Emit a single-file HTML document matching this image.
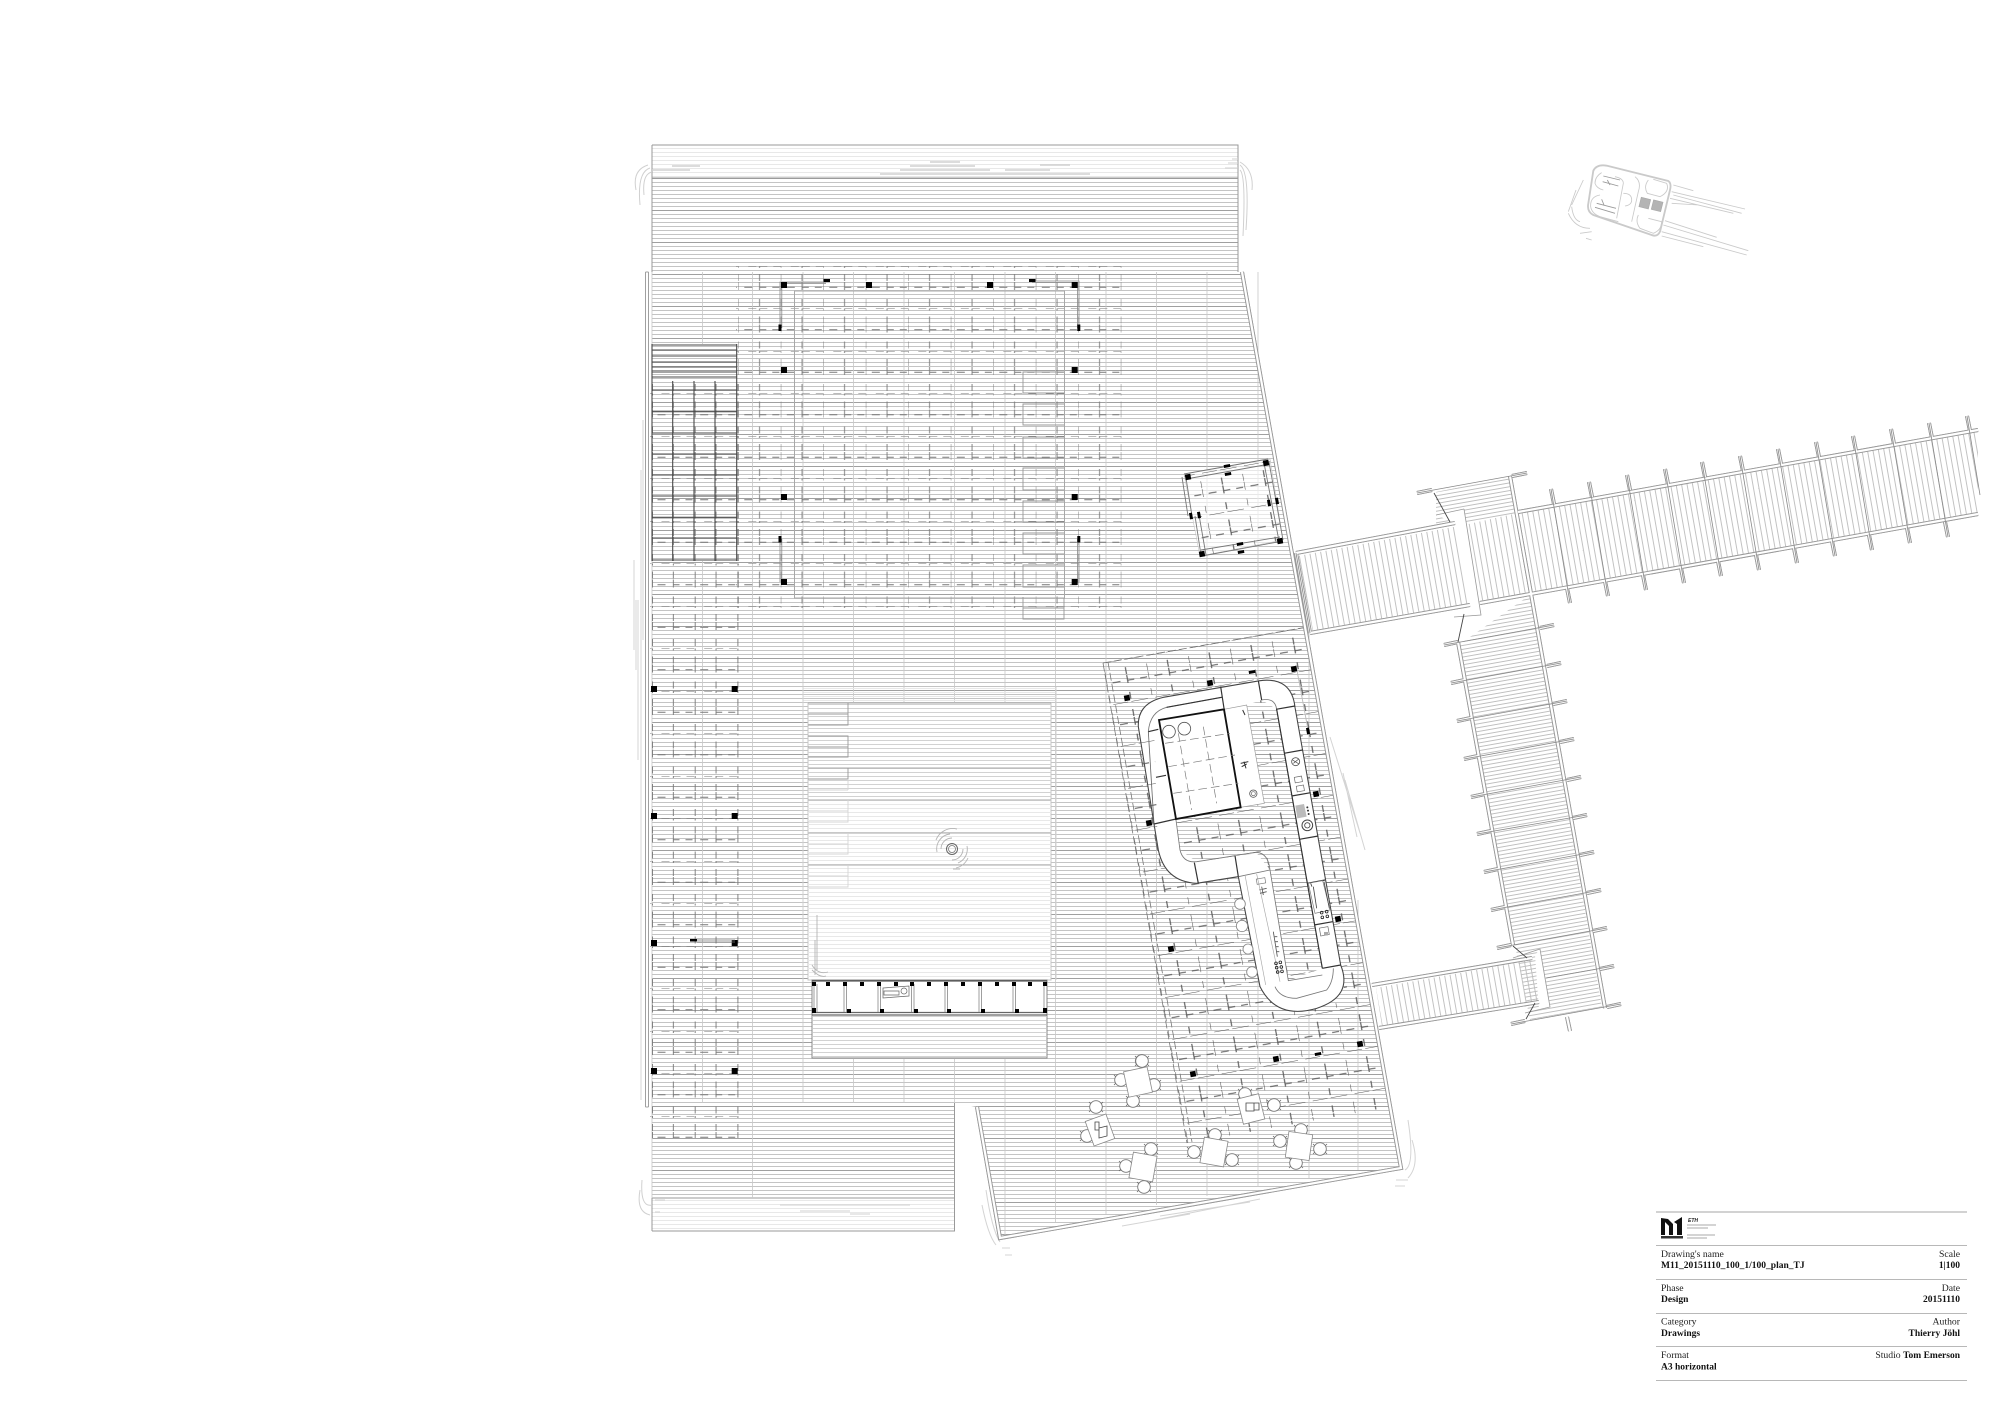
<!DOCTYPE html>
<html><head><meta charset="utf-8"><style>
html,body{margin:0;padding:0;background:#fff}
svg{display:block}
.t{font-family:"Liberation Serif",serif;font-size:9.7px;fill:#222}
.b{font-weight:bold;fill:#111;font-size:9.5px}
.r{text-anchor:end}
</style></head><body>
<svg xmlns="http://www.w3.org/2000/svg" width="2000" height="1414" viewBox="0 0 2000 1414" fill="none">
<defs>
<pattern id="pl" patternUnits="userSpaceOnUse" width="40" height="32" y="178"><path d="M0 .5H40M0 4.5H40M0 8.5H40M0 12.5H40M0 16.5H40M0 20.5H40M0 24.5H40M0 28.5H40" stroke="#c4c4c4"/><path d="M0 .5H40" stroke="#a0a0a0"/></pattern>
<pattern id="plL" patternUnits="userSpaceOnUse" width="40" height="4"><path d="M0 .5H40" stroke="#e8e8e8"/></pattern>
<pattern id="plM" patternUnits="userSpaceOnUse" width="40" height="4"><path d="M0 .5H40" stroke="#d2d2d2"/></pattern>
<pattern id="g1" patternUnits="userSpaceOnUse" x="738.3" y="266" width="42.5" height="42.5"><path d="M10 0H18M21.25 0H29M35 0H42.5M6 21.25H14M21.25 21.25H28M34 21.25H41M0 0V2M21.25 0V2M0 8V15M21.25 8V15M0 16V24M21.25 16V24M0 33V40M21.25 33V40" stroke="#777" stroke-width=".9"/></pattern>
<pattern id="g0" patternUnits="userSpaceOnUse" x="651.5" y="266" width="42.7" height="42.5"><path d="M10 0H18M21.35 0H29M35 0H42.7M6 21.25H14M21.35 21.25H28M34 21.25H41M1 0V2M21.85 0V2M1 8V15M21.85 8V15M1 16V24M21.85 16V24M1 33V40M21.85 33V40" stroke="#777" stroke-width=".9"/></pattern>
<pattern id="g2" patternUnits="userSpaceOnUse" width="42.5" height="42.5" patternTransform="translate(1103 663) rotate(-10)"><path d="M3 0H18M21.25 0H38M6 21.25H14M21.25 21.25H28M34 21.25H41M0 8V15M21.25 8V15M0 16V24M21.25 16V24M0 33V40M21.25 33V40" stroke="#555" stroke-width="1.1"/></pattern>
<pattern id="bp" patternUnits="userSpaceOnUse" width="5.4" height="20" patternTransform="rotate(-10)"><path d="M.5 0V20" stroke="#bcbcbc" stroke-width=".9"/></pattern>
<pattern id="vp" patternUnits="userSpaceOnUse" width="20" height="3.8" patternTransform="rotate(-10)"><path d="M0 .5H20" stroke="#bebebe" stroke-width=".9"/></pattern>
<rect id="S" x="-3" y="-3" width="6" height="6" fill="#000"/>
<rect id="s" x="-2.8" y="-2.8" width="5.6" height="5.6" fill="#000" transform="rotate(-10)"/>
<rect id="h" x="-3.2" y="-1.5" width="6.4" height="3" fill="#000" transform="rotate(-10)"/>
<rect id="v" x="-1.5" y="-3.2" width="3" height="6.4" fill="#000" transform="rotate(-10)"/>
<g id="c"><path d="M-7 -5L-5 -3M7 -5L5 -3M-7 5L-5 3M7 5L5 3" stroke="#666" stroke-width=".8"/><circle r="6.3" fill="#fff" stroke="#777" stroke-width=".9"/></g>
<g id="rails">
<path d="M1296 553L1455 523M1310 633L1470 605M1518 512L1978 430M1480 603L1978 514"/>
<path d="M1458 642L1513 945M1510 476L1605 1008M1372 985L1532 958M1379 1028L1539 1002"/>
<path d="M1242 272L1401 1168L1000 1238L977 1107M1296 553L1310 633"/>
<path d="M1551 489L1554 504M1589 482L1592 497M1627 475L1630 490M1665 469L1668 484M1702 462L1705 477M1740 456L1743 471M1778 449L1781 464M1816 442L1819 457M1853 436L1856 451M1891 429L1894 444M1929 423L1932 438M1967 416L1970 431"/>
<path d="M1570 603L1567 588M1608 596L1605 581M1646 590L1643 575M1684 583L1681 568M1721 576L1718 561M1759 570L1756 555M1797 563L1794 548M1835 556L1832 541M1872 550L1869 535M1910 543L1907 528M1948 537L1945 522"/>
<path d="M1417 493L1432 490M1527 473L1512 476M1444 645L1458 642M1451 683L1465 680M1457 721L1471 718M1464 759L1478 756M1471 797L1485 794M1477 834L1491 831M1484 872L1498 869M1491 910L1505 907M1497 948L1511 945M1511 1024L1525 1021"/>
<path d="M1554 625L1540 628M1561 663L1547 666M1567 701L1553 704M1574 739L1560 742M1581 777L1567 780M1587 815L1573 818M1594 852L1580 855M1601 890L1587 893M1607 928L1593 931M1614 966L1600 969M1621 1004L1607 1007M1567 1017L1570 1031"/>
</g>
</defs>
<rect width="2000" height="1414" fill="#fff"/>

<!-- deck -->
<polygon points="652,178 1238,178 1238,272 1243,272 1401,1168 1000,1238 977,1107 954,1103 954,1198 652,1198" fill="url(#pl)"/>
<rect x="652" y="146" width="586" height="32" fill="url(#plL)"/>
<rect x="652" y="1198" width="302" height="33" fill="url(#plL)"/>
<path d="M652 1231V1198M652 178V272M652 145H1238V272M652 1231H954.5V1103M652 178H1238M652 1198H954.5M652 145V178" stroke="#999" stroke-width="1"/>
<path d="M652 272V1198" stroke="#c4c4c4" stroke-width=".8"/>
<path d="M702.5 272V344M752.5 272V1198M803 272V1103M853.5 272V1103M904 272V1103M954.5 272V1103M1005 272V1235M1055.5 272V1222M1106 272V1214M1156.5 272V1205M1207 272V1196M1258 272V1187M1309 630V1178M1358 900V1170M702.5 561V1103" stroke="#c8c8c8" stroke-width=".8"/>

<!-- water ripple marks -->
<path d="M652 170H690M672 166H700M880 174H1010M900 170H990M910 166H975M1005 170H1050M930 162H960M1040 165H1070M1010 174H1090" stroke="#d0d0d0" stroke-width="1.4"/>
<path d="M652 172Q642 174 644 195M650 168Q637 172 640 205M648 165Q632 170 636 190M1240 165Q1250 172 1246 230M1240 170Q1246 175 1243 236M1240 162Q1254 170 1252 190M1238 168H1225M1238 163H1228M1238 159H1232" stroke="#d0d0d0" stroke-width="1"/>
<path d="M641 470V1100M636 600V670M634 560V650M638 600V760M643 420V640" stroke="#dcdcdc" stroke-width="1.2"/>
<path d="M652 1205Q640 1208 642 1180M650 1215Q636 1212 640 1190M655 1200H665M655 1212H660M780 1205H910M800 1211H850M850 1214H870" stroke="#d0d0d0" stroke-width="1"/>
<path d="M1000 1242Q992 1230 986 1190M996 1245Q988 1235 982 1205M1002 1248H1010M1005 1255H1012M1150 1221L1260 1199M1160 1216L1250 1202M1122 1226L1190 1214" stroke="#d4d4d4" stroke-width="1"/>
<path d="M1405 1170Q1415 1165 1408 1120M1408 1178Q1420 1165 1412 1140M1396 1180H1408M1395 1186H1405M1330 737L1360 833M1345 780L1365 850M1343 773L1357 837" stroke="#d4d4d4" stroke-width="1"/>

<!-- grids -->
<rect x="736" y="264" width="388" height="344" fill="url(#g1)"/>
<rect x="650" y="380" width="89" height="758" fill="url(#g0)"/>

<!-- outer walls -->
<use href="#rails" stroke="#999" stroke-width="4"/>
<use href="#rails" stroke="#fff" stroke-width="2.2"/>
<path d="M645.5 272H648.5M645.5 272V1107M648.5 272V1107M645.5 1107H648.5" stroke="#a0a0a0" stroke-width="1"/>

<!-- interior rects -->
<rect x="794.5" y="291" width="270" height="307" stroke="#a8a8a8" stroke-width="1"/>
<path d="M1064 372H1023V393H1064M1064 404H1023V425H1064M1064 437H1023V458H1064M1064 468H1023V490H1064M1064 501H1023V522H1064M1064 533H1023V554H1064M1064 565H1023V587H1064M1064 598V619H1023V597M1023 608H1064" stroke="#999" stroke-width=".9"/>
<path d="M780 328V282H826M781.8 328V283.5H826M1032 281H1079V328M1032 282.5H1077.5V328M780 539V582M781.8 539V582M1079 539V582M1077.5 539V582" stroke="#888" stroke-width=".8"/>
<g><use href="#S" x="784" y="285"/><use href="#S" x="869" y="285"/><use href="#S" x="990" y="285"/><use href="#S" x="1074.7" y="285"/><use href="#S" x="784" y="370"/><use href="#S" x="1074.7" y="370"/><use href="#S" x="784" y="497"/><use href="#S" x="1074.7" y="497"/><use href="#S" x="784" y="582"/><use href="#S" x="1074.7" y="582"/>
<rect x="823.5" y="279" width="6.5" height="3" fill="#000"/><rect x="1029" y="279" width="6.5" height="3" fill="#000"/><rect x="778.5" y="324.5" width="3" height="6.5" fill="#000"/><rect x="1077.3" y="324.5" width="3" height="6.5" fill="#000"/><rect x="778.5" y="536" width="3" height="6.5" fill="#000"/><rect x="1077.3" y="536" width="3" height="6.5" fill="#000"/>
<use href="#S" x="654" y="689"/><use href="#S" x="734.7" y="689"/><use href="#S" x="654" y="816"/><use href="#S" x="734.7" y="816"/><use href="#S" x="654" y="943"/><use href="#S" x="734.7" y="943"/><use href="#S" x="654" y="1071"/><use href="#S" x="734.7" y="1071"/>
<rect x="690" y="939" width="7" height="2.5" fill="#000"/></g>
<path d="M697 940H735M697 942H735" stroke="#777" stroke-width=".8"/>

<!-- dark grid -->
<path d="M652 345H737M652 350H737M652 356H737M652 362H737M652 367H737M652 372H737M652 377H737M652 390H737M652 411.7H737M652 433H737M652 454H737M652 475H737M652 496H737M652 517.3H737M652 538H737M652 560H737M652 344V561M672.7 381V561M694 381V561M715 381V561M736.7 344V561" stroke="#484848" stroke-width="1.1"/>

<!-- court -->
<rect x="808" y="703" width="243" height="277" fill="#fff" stroke="#c4c4c4" stroke-width="1"/>
<rect x="808" y="703" width="243" height="97" fill="url(#plM)"/>
<rect x="808" y="800" width="243" height="180" fill="url(#plL)"/>
<rect x="803" y="687" width="253" height="16" fill="url(#plL)"/>
<path d="M803 687V980M1056 687V980" stroke="#d0d0d0"/>
<path d="M808 703H1051M808 768H1051M808 800H1051M808 833H1051M808 865H1051" stroke="#a8a8a8" stroke-width=".9"/>
<path d="M808 714H848M848 703V725H808M808 736H848V757H808M808 747H848M808 779H848V768" stroke="#999" stroke-width=".9"/>
<path d="M808 790H848M848 779V790M848 800V822H808M808 811H848M848 833V854H808M808 844H848M848 865V887H808M808 876H848" stroke="#d4d4d4" stroke-width=".9"/>
<circle cx="952" cy="849" r="5.5" stroke="#666" stroke-width="1"/><circle cx="952" cy="849" r="3.5" stroke="#777" stroke-width=".8"/>
<path d="M941 849A11 11 0 0 1 952 838M963 849A11 11 0 0 1 952 860M937 852A15 15 0 0 1 950 834M967 846A15 15 0 0 1 958 863M936 840A18 18 0 0 1 957 829M968 858A18 18 0 0 1 956 868M953 869H960" stroke="#b4b4b4" stroke-width=".9"/>
<path d="M817 915V970M815 940V975M812 965Q818 975 828 972M812 970Q820 978 826 976" stroke="#b4b4b4" stroke-width=".9"/>

<!-- band building -->
<rect x="812" y="980" width="235" height="78" fill="#fff" stroke="#888" stroke-width="1"/>
<rect x="813" y="1016" width="233" height="41" fill="url(#plM)"/>
<path d="M812 1012.5H1047M812 1015H1047" stroke="#666" stroke-width="1.2"/>
<path d="M812 981H1047" stroke="#333" stroke-width="1"/>
<path d="M814 984V1012M817 984V1012M844 984V1012M846.5 984V1012M878 984V1012M880.5 984V1012M911.5 984V1012M914 984V1012M945 984V1012M947.5 984V1012M979 984V1012M981.5 984V1012M1013 984V1012M1015.5 984V1012M1044 984V1012M1047 984V1012" stroke="#888" stroke-width=".8"/>
<g fill="#000"><rect x="812" y="982" width="4" height="4"/><rect x="826" y="982" width="4" height="4"/><rect x="843" y="982" width="4" height="4"/><rect x="860" y="982" width="4" height="4"/><rect x="877" y="982" width="4" height="4"/><rect x="894" y="982" width="4" height="4"/><rect x="910" y="982" width="4" height="4"/><rect x="927" y="982" width="4" height="4"/><rect x="944" y="982" width="4" height="4"/><rect x="961" y="982" width="4" height="4"/><rect x="978" y="982" width="4" height="4"/><rect x="995" y="982" width="4" height="4"/><rect x="1012" y="982" width="4" height="4"/><rect x="1028" y="982" width="4" height="4"/><rect x="1043" y="982" width="4" height="4"/>
<rect x="812" y="1008" width="4" height="5"/><rect x="847" y="1009" width="4" height="4"/><rect x="880" y="1009" width="4" height="4"/><rect x="914" y="1009" width="4" height="4"/><rect x="947" y="1009" width="4" height="4"/><rect x="981" y="1009" width="4" height="4"/><rect x="1015" y="1009" width="4" height="4"/><rect x="1043" y="1008" width="4" height="5"/></g>
<path d="M883 988L909 986V996L883 998ZM884 991H899V995H884Z" stroke="#666" fill="#fff" stroke-width=".7"/><circle cx="904" cy="991" r="3" stroke="#666" stroke-width=".7" fill="#fff"/>

<!-- pavilion -->
<polygon points="1184,474 1270,459 1283,540 1200,556" fill="#fff" fill-opacity=".6" stroke="#bbb" stroke-width=".5"/>
<polygon points="1184,474 1270,459 1283,540 1200,556" fill="url(#g2)"/>
<path d="M1184 474L1268 459M1186 479L1270 464M1264 463L1279 541M1269 462L1283 540M1186 478L1192 516M1182 477L1188 516M1199 515L1206 555M1195 516L1201 555M1201 550L1280 537M1202 556L1283 541" stroke="#777" stroke-width=".9"/>
<g><use href="#s" x="1188" y="477"/><use href="#s" x="1266" y="463"/><use href="#s" x="1280" y="541"/><use href="#s" x="1202" y="554"/><use href="#h" x="1227" y="466"/><use href="#h" x="1228" y="474"/><use href="#h" x="1240" y="544"/><use href="#h" x="1241" y="552"/><use href="#v" x="1269" y="503"/><use href="#v" x="1277" y="501"/><use href="#v" x="1191" y="516"/><use href="#v" x="1199" y="515"/></g>

<!-- kiosk outer fill -->
<g transform="translate(1100 620) scale(.33333)">
<path d="M162 612L115 320Q112 250 190 232L480 182Q575 170 585 262L722 1035Q760 1130 650 1165Q530 1200 480 1100L415 770L290 790Q195 785 175 690Z" fill="#fff" stroke="#444" stroke-width="3.2"/>
</g>
<!-- kiosk interior (open deck) -->
<polygon points="1246.7,705 1261.7,700 1276.7,709.3 1322.3,968.3 1288.3,980.7 1270,870 1256.7,853.3 1196.7,861.7 1180,850 1176,819 1240.7,807.3 1264.3,803.3" fill="url(#pl)"/>
<!-- rotated grid for cafe -->
<polygon points="1103,663 1307,627 1390,1107 1187,1143" fill="url(#g2)" opacity="0"/>
<path d="M1138 720L1103 663L1307 627" stroke="none"/>
<path fill="url(#g2)" fill-rule="evenodd" d="M1103 663L1307 627L1390 1107L1187 1143ZM1154 726L1138 726Q1137 703 1163 697L1260 680Q1290 677 1295 707L1341 965Q1353 1008 1317 1008Q1277 1020 1260 987L1238 877L1197 883Q1165 882 1158 850Z"/>
<polygon points="1246.7,705 1261.7,700 1276.7,709.3 1322.3,968.3 1288.3,980.7 1270,870 1256.7,853.3 1196.7,861.7 1180,850 1176,819 1240.7,807.3 1264.3,803.3" fill="url(#g2)"/>
<path d="M1103 663L1187 1143M1108 662L1192 1142M1103 663L1307 627" stroke="#777" stroke-width=".8" stroke-dasharray="8 3"/>

<!-- kiosk details -->
<g transform="translate(1100 620) scale(.33333)">
<path d="M145 335Q150 275 200 262L365 232M485 240Q525 232 530 268L667 1045M228 600L240 690Q250 730 290 725L405 707M415 770L510 750L565 1082L667 1065M412 705L470 697Q505 700 510 750M525 1100Q540 1135 590 1135L680 1110Q700 1085 700 1045" stroke="#777" stroke-width="2.5"/>
<path d="M372 268L440 255L493 550L422 562" stroke="#999" stroke-width="2" fill="none"/>
<path d="M435 765L497 1095M470 762L540 1085" stroke="#aaa" stroke-width="2"/>
<path d="M145 335L162 612" stroke="#666" stroke-width="2.5"/>
<path d="M200 262L365 232M362 200L372 265M475 182L485 240M528 268L585 258M145 335L175 328M168 472L198 466M162 612L228 597M283 728L295 790M405 707L415 770M552 400L608 390M575 528L632 518M598 658L655 648M622 790L675 780M642 915L698 905M667 1045L722 1035M530 268L667 1045" stroke="#333" stroke-width="3.6"/>
<polygon points="177,300 372,268 422,562 228,597" fill="#fff" stroke="#111" stroke-width="5.5"/>
<path d="M235 340L275 570M310 320L350 550M195 370L390 340M205 440L405 405M220 520L415 490" stroke="#777" stroke-width="2" stroke-dasharray="26 12"/>
<circle cx="207" cy="335" r="19" stroke="#555" stroke-width="2.5" fill="#fff"/><circle cx="253" cy="326" r="19" stroke="#555" stroke-width="2.5" fill="#fff"/>
<path d="M428 270L435 285M422 430L445 425M425 440L440 432M432 425L438 445" stroke="#333" stroke-width="3"/>
<circle cx="460" cy="521" r="11" stroke="#555" stroke-width="2.5"/><circle cx="460" cy="521" r="6" stroke="#666" stroke-width="2"/>
<circle cx="587" cy="425" r="12" stroke="#555" stroke-width="2.5"/><path d="M578 420L597 432M580 430L595 418" stroke="#444" stroke-width="2"/>
<rect x="584" y="470" width="22" height="17" stroke="#666" stroke-width="2" transform="rotate(-10 595 478)"/><rect x="590" y="497" width="22" height="17" stroke="#666" stroke-width="2" transform="rotate(-10 600 505)"/>
<polygon points="586,557 612,552 620,590 592,595" fill="#bbb"/>
<circle cx="622" cy="562" r="3" fill="#333"/><circle cx="624" cy="572" r="3" fill="#333"/><circle cx="626" cy="582" r="3" fill="#333"/>
<circle cx="622" cy="616" r="16" stroke="#444" stroke-width="3"/><circle cx="622" cy="616" r="8" stroke="#444" stroke-width="2.5"/>
<polygon points="625,790 668,782 690,870 645,880" stroke="#777" stroke-width="2" fill="#fff"/><path d="M640 800L650 865M672 785L688 865M632 790L636 800" stroke="#444" stroke-width="2.5"/>
<circle cx="665" cy="878" r="4" stroke="#222" stroke-width="2.5"/><circle cx="680" cy="875" r="4" stroke="#222" stroke-width="2.5"/><circle cx="667" cy="892" r="4" stroke="#222" stroke-width="2.5"/><circle cx="682" cy="889" r="4" stroke="#222" stroke-width="2.5"/>
<rect x="660" y="922" width="26" height="24" stroke="#666" stroke-width="2" transform="rotate(-10 673 934)"/><rect x="672" y="936" width="12" height="10" fill="#aaa"/>
<rect x="470" y="775" width="26" height="16" stroke="#777" stroke-width="2" transform="rotate(-10 483 783)"/><path d="M478 810L500 805M480 820L500 815M485 800L490 825" stroke="#555" stroke-width="2.5"/>
<path d="M520 935L532 1010M524 950H532M526 965H534M528 980H536M530 995H538" stroke="#555" stroke-width="2.5"/>
<circle cx="528" cy="1030" r="4" stroke="#222" stroke-width="2.5"/><circle cx="541" cy="1027" r="4" stroke="#222" stroke-width="2.5"/><circle cx="530" cy="1043" r="4" stroke="#222" stroke-width="2.5"/><circle cx="544" cy="1041" r="4" stroke="#222" stroke-width="2.5"/><circle cx="533" cy="1056" r="4" stroke="#222" stroke-width="2.5"/><circle cx="546" cy="1054" r="4" stroke="#222" stroke-width="2.5"/>
<g stroke="#888" stroke-width="2.6" fill="#fff"><circle cx="420" cy="852" r="16"/><circle cx="426" cy="918" r="17"/><circle cx="444" cy="987" r="15"/><circle cx="456" cy="1056" r="16"/><circle cx="125" cy="1323" r="19"/></g>
</g>
<path d="M1296 665L1309 735" stroke="#bbb" stroke-width=".9"/>
<g><use href="#s" x="1127" y="698"/><use href="#s" x="1210" y="683"/><use href="#s" x="1294" y="669"/><use href="#s" x="1149" y="823"/><use href="#s" x="1316" y="794"/><use href="#s" x="1171" y="949"/><use href="#s" x="1338" y="919"/><use href="#s" x="1193" y="1074"/><use href="#s" x="1276" y="1059"/><use href="#s" x="1360" y="1044"/><use href="#h" x="1252" y="672"/><use href="#v" x="1308" y="731"/><use href="#h" x="1318" y="1054"/></g>

<!-- tables -->
<g fill="#fff" stroke="#888" stroke-width=".8">
<use href="#c" x="1142" y="1061"/><use href="#c" x="1121" y="1080"/><use href="#c" x="1154" y="1085"/><use href="#c" x="1133" y="1101"/>
<use href="#c" x="1096" y="1107"/><use href="#c" x="1087" y="1136"/>
<use href="#c" x="1151" y="1149"/><use href="#c" x="1126" y="1166"/><use href="#c" x="1144" y="1187"/>
<use href="#c" x="1245" y="1094"/><use href="#c" x="1274" y="1105"/>
<use href="#c" x="1215" y="1135"/><use href="#c" x="1194" y="1152"/><use href="#c" x="1232" y="1160"/>
<use href="#c" x="1301" y="1130"/><use href="#c" x="1280" y="1141"/><use href="#c" x="1320" y="1149"/><use href="#c" x="1296" y="1163"/>
<rect x="-12" y="-13" width="24" height="26" transform="translate(1138 1082) rotate(-12)"/>
<rect x="-11" y="-13" width="22" height="26" transform="translate(1100 1130) rotate(-20)"/>
<rect x="-12" y="-13" width="24" height="26" transform="translate(1143 1167) rotate(10)"/>
<rect x="-11" y="-13" width="22" height="26" transform="translate(1251 1109) rotate(-14)"/>
<rect x="-12" y="-13" width="24" height="26" transform="translate(1214 1152) rotate(10)"/>
<rect x="-12" y="-13" width="24" height="26" transform="translate(1299 1146) rotate(8)"/>
</g>
<path d="M1095 1130V1122H1099V1130ZM1099 1128L1107 1126V1136L1099 1138Z" stroke="#444" stroke-width=".8"/>
<path d="M1246 1103H1254V1111H1246ZM1254 1103H1259V1110H1254Z" stroke="#444" stroke-width=".8"/>

<!-- bridge planks -->
<polygon points="1298,556 1464,525 1518,513 1978,431 1978,514 1480,603 1313,633" fill="url(#bp)"/>
<polygon points="1460,644 1530,595 1602,1007 1530,1020 1515,945" fill="url(#vp)"/>
<polygon points="1436,492 1510,477 1518,513 1436,528" fill="url(#vp)"/>
<polygon points="1376,988 1532,960 1540,1000 1382,1026" fill="url(#bp)"/>
<polygon points="1436,515 1464,509 1481,615 1454,617 1470,606 1455,523" fill="#fff"/>
<polygon points="1535,955 1540,949 1550,1007 1539,1010" fill="#fff"/>
<use href="#rails" stroke="#999" stroke-width="4"/>
<use href="#rails" stroke="#fff" stroke-width="2.2"/>
<path d="M1464 509L1481 615L1454 617M1436 515L1464 509M1513 958L1540 949L1550 1007L1525 1013" stroke="#999" stroke-width=".8"/>
<!-- bridge beams -->
<path d="M1551 489L1570 603M1589 482L1608 596M1627 475L1646 590M1665 469L1684 583M1702 462L1721 576M1740 456L1759 570M1778 449L1797 563M1816 442L1835 556M1853 436L1872 550M1891 429L1910 543M1929 423L1948 537M1967 416L1980 495" stroke="#888" stroke-width=".8"/>
<path d="M1417 493L1527 473M1444 645L1554 625M1451 683L1561 663M1457 721L1567 701M1464 759L1574 739M1471 797L1581 777M1477 834L1587 815M1484 872L1594 852M1491 910L1601 890M1497 948L1607 928M1546 978L1614 966M1511 1024L1621 1004" stroke="#888" stroke-width=".8"/>
<path d="M1434 493L1450 522M1464 614L1458 642M1513 946L1527 958M1535 1003L1526 1019" stroke="#444" stroke-width=".9"/>
<path d="M1296 553L1310 633" stroke="#888" stroke-width=".8"/>

<!-- car -->
<g transform="translate(1560 150) scale(.33333)" stroke="#cacaca" fill="none">
<path d="M100 62Q110 42 140 47L325 93Q335 100 330 120L300 245Q292 262 275 255L100 195Q80 185 85 160Z" stroke-width="5.5"/>
<path d="M125 68Q105 80 105 100Q110 115 130 120M120 135Q90 140 92 170Q95 190 120 200L175 215M165 80Q190 85 190 100L170 205M225 80Q245 95 235 125L215 215M190 130Q215 130 215 150Q215 165 195 168M265 90Q250 110 262 130L300 140Q330 125 320 100L280 88M235 195Q225 215 240 235L280 250Q305 240 305 215L265 205" stroke-width="2.6"/>
<rect x="240" y="145" width="29" height="29" fill="#b4b4b4" stroke="#aaa" stroke-width="2" transform="rotate(14 255 159)"/><rect x="277" y="153" width="29" height="29" fill="#b4b4b4" stroke="#aaa" stroke-width="2" transform="rotate(14 292 167)"/>
<path d="M130 78L180 90M128 95L175 108M142 90L150 105M105 172L165 190M110 160L168 175M125 148L132 165" stroke="#999" stroke-width="2.5"/>
<path d="M340 105L400 122M335 125L555 177M340 135L545 190M330 145L520 190M335 160L415 165M315 212L470 262M310 225L565 302M305 245L560 315M305 258L430 290M70 90L35 165M48 120L25 185M35 170Q40 210 60 215M25 190Q45 235 90 235M60 250L95 245M78 265L95 270" stroke-width="2.6"/>
</g>

<!-- title block -->
<path d="M1656 1212H1967" stroke="#c4c4c4" stroke-width="1.4"/>
<path d="M1656 1245.5H1967M1656 1279.5H1967M1656 1313.5H1967M1656 1346.5H1967M1656 1380.5H1967" stroke="#b8b8b8" stroke-width="1"/>
<path d="M1661 1235V1218L1668 1219L1673 1224V1235H1669V1226L1665 1222V1235Z" fill="#111"/>
<path d="M1674 1222L1682 1217V1235H1677V1224Z" fill="#111"/>
<rect x="1661" y="1236" width="22" height="2.5" fill="#333"/>
<text x="1688" y="1222" style="font-family:'Liberation Sans',sans-serif;font-size:5px;font-weight:bold;font-style:italic;fill:#222">ETH</text>
<path d="M1687 1225H1716M1687 1228H1708M1687 1235H1715M1687 1238H1707" stroke="#aaa" stroke-width=".9"/>
<g class="t">
<text class="t" x="1661" y="1257">Drawing's name</text><text class="t b" x="1661" y="1268">M11_20151110_100_1/100_plan_TJ</text>
<text class="t r" x="1960" y="1257">Scale</text><text class="t b r" x="1960" y="1268">1|100</text>
<text class="t" x="1661" y="1291">Phase</text><text class="t b" x="1661" y="1302">Design</text>
<text class="t r" x="1960" y="1291">Date</text><text class="t b r" x="1960" y="1302">20151110</text>
<text class="t" x="1661" y="1324.5">Category</text><text class="t b" x="1661" y="1336">Drawings</text>
<text class="t r" x="1960" y="1324.5">Author</text><text class="t b r" x="1960" y="1336">Thierry Jöhl</text>
<text class="t" x="1661" y="1358">Format</text><text class="t b" x="1661" y="1369.5">A3 horizontal</text>
<text class="t r" x="1960" y="1358">Studio <tspan class="b">Tom Emerson</tspan></text>
</g>
</svg>
</body></html>
